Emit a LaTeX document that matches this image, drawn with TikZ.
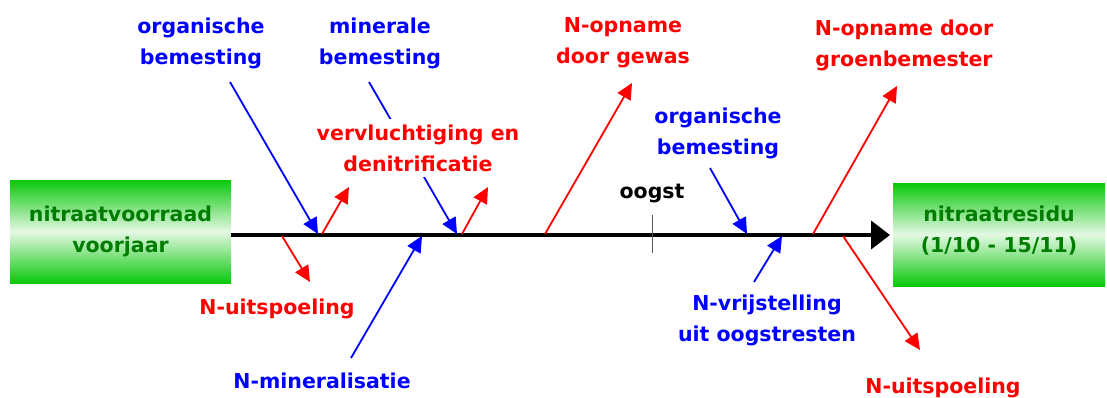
\documentclass[tikz,border=0pt]{standalone}
\usepackage{fontspec}
\setmainfont{DejaVu Sans}
\usetikzlibrary{arrows.meta}
\definecolor{tblue}{RGB}{0,0,255}
\definecolor{tred}{RGB}{255,0,0}
\definecolor{tgreen}{RGB}{0,125,0}
\definecolor{gtop}{RGB}{10,200,10}
\definecolor{gmid}{RGB}{228,248,228}
\tikzset{
  lbl/.style={align=center, font=\fontsize{20.5}{31}\selectfont\bfseries, inner sep=0pt},
  bluet/.style={lbl, text=tblue},
  redt/.style={lbl, text=tred},
  gbox/.style={lbl, text=tgreen, minimum width=#1, minimum height=103pt, top color=gtop, bottom color=gtop, middle color=gmid},
  barrow/.style={draw=tblue, line width=1.8pt, -{Triangle[length=16pt,width=15pt]}},
  rarrow/.style={draw=tred, line width=1.8pt, -{Triangle[length=16pt,width=15pt]}},
}
\begin{document}
\begin{tikzpicture}[x=1pt,y=-1pt]
\useasboundingbox (0,0) rectangle (1107,398);
% boxes
\node[gbox=221pt] (lbox) at (120.5,231.5) {nitraatvoorraad\\voorjaar};
\node[gbox=212pt] (rbox) at (999,234.5) {nitraatresidu\\(1/10 - 15/11)\rule[-10pt]{0pt}{0pt}};
% axis
\coordinate (a0) at (231,235);
\coordinate (a1) at (890,235);
\draw[line width=4pt, -{Triangle[length=19pt,width=28pt]}] (a0) -- (a1);
% axis points
\coordinate (p1) at (318,234);
\coordinate (p2) at (322,234);
\coordinate (p3) at (457,234);
\coordinate (p4) at (462,234);
\coordinate (p5) at (282,236);
\coordinate (p6) at (422,236);
\coordinate (p7) at (545,234);
\coordinate (p8) at (747,234);
\coordinate (p9) at (782,236);
\coordinate (p10) at (813,234);
\coordinate (p11) at (843,236);
% free ends
\coordinate (e1) at (230,82);
\coordinate (e2) at (349,187);
\coordinate (e3) at (369,82);
\coordinate (e4) at (488,187);
\coordinate (e5) at (310,282);
\coordinate (e6) at (351,358);
\coordinate (e7) at (632,83);
\coordinate (e8) at (710,168);
\coordinate (e9) at (754,282);
\coordinate (e10) at (897,86);
\coordinate (e11) at (920,350);
% labels
\node[bluet] (ob1) at (201,43) {organische\\bemesting};
\node[bluet] (mb) at (380,43) {minerale\\bemesting};
\draw[barrow] (e3) -- (p3);
\node[redt, fill=white, inner xsep=2pt, inner ysep=6pt] (vd) at (418,148) {vervluchtiging en\\denitrificatie};
\node[redt] (nu1) at (277,309) {N-uitspoeling};
\node[bluet] (nm) at (322,381) {N-mineralisatie};
\node[redt] (og) at (623,43) {N-opname\\door gewas};
\node[bluet] (ob2) at (718,133) {organische\\bemesting};
\node[lbl] (oogst) at (652,194) {oogst};
\node[bluet] (nv) at (767,320) {N-vrijstelling\\uit oogstresten};
\node[redt] (ng) at (904,45) {N-opname door\\groenbemester};
\node[redt] (nu2) at (943,388) {N-uitspoeling};
% harvest tick
\coordinate (t0) at (652,215);
\coordinate (t1) at (652,253);
\draw[gray!70!black, line width=1pt] (t0) -- (t1);
% arrows
\draw[barrow] (e1) -- (p1);
\draw[rarrow] (p2) -- (e2);
\draw[rarrow] (p4) -- (e4);
\draw[rarrow] (p5) -- (e5);
\draw[barrow] (e6) -- (p6);
\draw[rarrow] (p7) -- (e7);
\draw[barrow] (e8) -- (p8);
\draw[barrow] (e9) -- (p9);
\draw[rarrow] (p10) -- (e10);
\draw[rarrow] (p11) -- (e11);
\end{tikzpicture}
\end{document}
